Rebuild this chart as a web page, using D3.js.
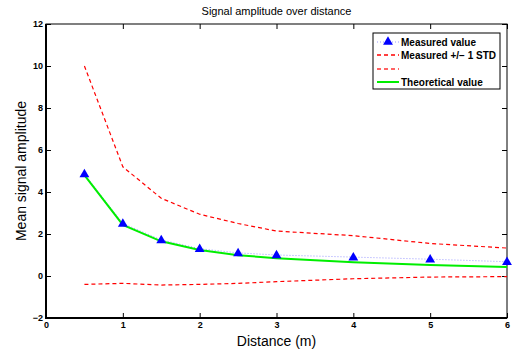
<!DOCTYPE html>
<html>
<head>
<meta charset="utf-8">
<script src="https://cdn.jsdelivr.net/npm/d3@7"></script>
<style>
  body { margin: 0; background: #fff; }
  svg { display: block; font-family: "Liberation Sans", Arial, sans-serif; }
</style>
</head>
<body>
<svg id="chart"></svg>
<script>
// data
const distances = [0.5, 1, 1.5, 2, 2.5, 3, 4, 5, 6];
const measured = [4.86, 2.5, 1.72, 1.3, 1.1, 1.0, 0.9, 0.8, 0.68];
const stdUpper = [10.0, 5.2, 3.7, 2.94, 2.5, 2.14, 1.92, 1.55, 1.33];
const stdLower = [-0.4, -0.35, -0.43, -0.4, -0.35, -0.27, -0.13, -0.05, -0.03];
const theoretical = [4.8, 2.43, 1.65, 1.24, 0.99, 0.85, 0.66, 0.52, 0.43];
const xTicks = [0, 1, 2, 3, 4, 5, 6];
const yTicks = [-2, 0, 2, 4, 6, 8, 10, 12];
const legendItems = ["Measured value", "Measured +/\u2212 1 STD", "", "Theoretical value"];

const width = 514, height = 353;
const margin = { top: 24, right: 7, bottom: 35, left: 46 };

const svg = d3.select("#chart").attr("width", width).attr("height", height);

const x = d3.scaleLinear().domain([0, 6]).range([margin.left, width - margin.right]);
const y = d3.scaleLinear().domain([-2, 12]).range([height - margin.bottom, margin.top]);

const pts = (vals) => distances.map((d, i) => [d, vals[i]]);
const line = d3.line().x(d => x(d[0])).y(d => y(d[1]));

// axes, ticks inside, on all four sides
svg.append("g")
  .attr("transform", `translate(0,${y(-2)})`)
  .call(d3.axisBottom(x).tickValues(xTicks).tickSize(-5).tickPadding(4).tickFormat(d3.format("d")))
  .call(g => g.select(".domain").remove());
svg.append("g")
  .attr("transform", `translate(0,${y(12)})`)
  .call(d3.axisTop(x).tickValues(xTicks).tickSize(-5).tickFormat(""))
  .call(g => g.select(".domain").remove());
svg.append("g")
  .attr("transform", `translate(${x(0)},0)`)
  .call(d3.axisLeft(y).tickValues(yTicks).tickSize(-5).tickPadding(3).tickFormat(d3.format("d")))
  .call(g => g.select(".domain").remove());
svg.append("g")
  .attr("transform", `translate(${x(6)},0)`)
  .call(d3.axisRight(y).tickValues(yTicks).tickSize(-5).tickFormat(""))
  .call(g => g.select(".domain").remove());

svg.selectAll(".tick line").attr("stroke", "#000").attr("stroke-width", 1);
svg.selectAll(".tick text")
  .attr("fill", "#000")
  .style("font-size", "9px")
  .style("font-weight", "bold")
  .style("font-family", "'Liberation Sans', Arial, sans-serif");

// box
svg.append("rect")
  .attr("x", x(0)).attr("y", y(12))
  .attr("width", x(6) - x(0)).attr("height", y(-2) - y(12))
  .attr("fill", "none").attr("stroke", "#000").attr("stroke-width", 1);
svg.append("line")
  .attr("x1", x(0)).attr("x2", x(0)).attr("y1", y(12)).attr("y2", y(-2))
  .attr("stroke", "#000").attr("stroke-width", 2);
svg.append("line")
  .attr("x1", x(0) - 1).attr("x2", x(6)).attr("y1", y(-2)).attr("y2", y(-2))
  .attr("stroke", "#000").attr("stroke-width", 2);

// series
svg.append("path").datum(pts(measured)).attr("d", line)
  .attr("fill", "none").attr("stroke", "#8080ff").attr("stroke-width", 0.8)
  .attr("stroke-dasharray", "1,2");
svg.append("path").datum(pts(stdUpper)).attr("d", line)
  .attr("fill", "none").attr("stroke", "#ff0000").attr("stroke-width", 1.2)
  .attr("stroke-dasharray", "4,3");
svg.append("path").datum(pts(stdLower)).attr("d", line)
  .attr("fill", "none").attr("stroke", "#ff0000").attr("stroke-width", 1.2)
  .attr("stroke-dasharray", "4,3");
svg.append("path").datum(pts(theoretical)).attr("d", line)
  .attr("fill", "none").attr("stroke", "#00ee00").attr("stroke-width", 2);

const tri = d3.symbol().type(d3.symbolTriangle).size(42);
svg.append("g").selectAll("path")
  .data(pts(measured))
  .join("path")
  .attr("d", tri)
  .attr("transform", d => `translate(${x(d[0])},${y(d[1]) + 0.5})`)
  .attr("fill", "#0000ff");

// legend
const lg = svg.append("g").attr("transform", "translate(373,33)");
lg.append("rect").attr("width", 127).attr("height", 56)
  .attr("fill", "#fff").attr("stroke", "#000").attr("stroke-width", 1);
legendItems.forEach((label, i) => {
  const ly = Math.round(9 + i * 13.3);
  const row = lg.append("g").attr("transform", `translate(0,${ly})`);
  if (i === 0) {
    row.append("line").attr("x1", 4).attr("x2", 26).attr("stroke", "#8080ff")
      .attr("stroke-width", 0.8).attr("stroke-dasharray", "1,2");
    row.append("path").attr("d", tri).attr("transform", "translate(15,0)").attr("fill", "#0000ff");
  } else if (i === 3) {
    row.append("line").attr("x1", 4).attr("x2", 26).attr("stroke", "#00ee00").attr("stroke-width", 2);
  } else {
    row.append("line").attr("x1", 4).attr("x2", 26).attr("stroke", i === 2 ? "#ff3030" : "#ff0000")
      .attr("stroke-width", 1.5).attr("stroke-dasharray", "4,3");
  }
  row.append("text").attr("x", 28).attr("y", 3.5).text(label)
    .style("font-size", "10px").style("font-weight", "bold");
});

// titles
svg.append("text").attr("x", (x(0) + x(6)) / 2).attr("y", 15)
  .attr("text-anchor", "middle").style("font-size", "11px")
  .text("Signal amplitude over distance");
svg.append("text").attr("x", (x(0) + x(6)) / 2).attr("y", 346)
  .attr("text-anchor", "middle").style("font-size", "14px")
  .text("Distance (m)");
svg.append("text")
  .attr("transform", `translate(25.5,${(y(12) + y(-2)) / 2}) rotate(-90)`)
  .attr("text-anchor", "middle").style("font-size", "14px")
  .text("Mean signal amplitude");
</script>
</body>
</html>
